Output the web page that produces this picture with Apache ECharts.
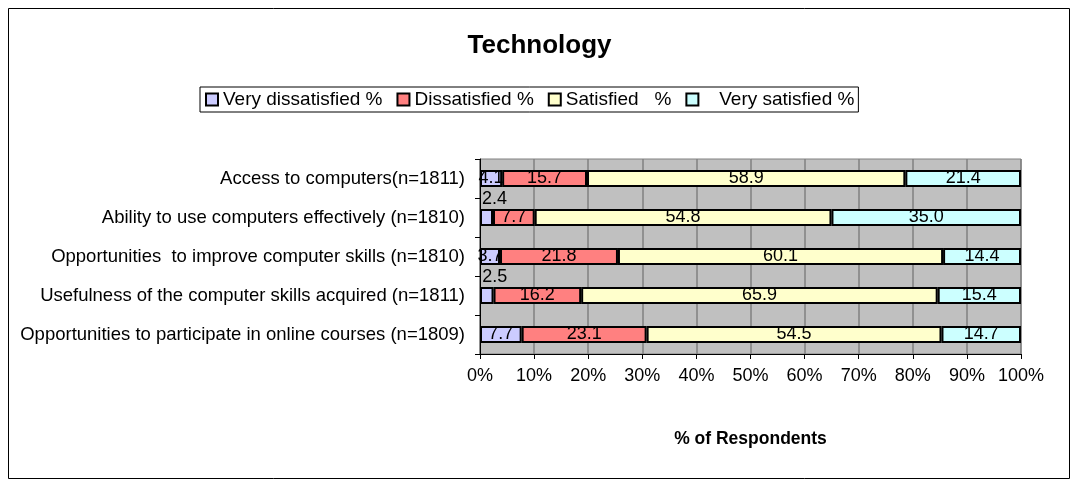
<!DOCTYPE html>
<html>
<head>
<meta charset="utf-8">
<script src="https://cdn.jsdelivr.net/npm/echarts@6/dist/echarts.min.js"></script>
<style>
  html, body { margin: 0; padding: 0; background: #fff; }
  #chart { width: 1079px; height: 488px; }
</style>
</head>
<body>
<div id="chart"></div>
<script>
// categories listed bottom to top (ECharts category axis grows upward)
const categories = [
  'Opportunities to participate in online courses (n=1809)',
  'Usefulness of the computer skills acquired (n=1811)',
  'Opportunities  to improve computer skills (n=1810)',
  'Ability to use computers effectively (n=1810)',
  'Access to computers(n=1811)'
]
const seriesNames = ['Very dissatisfied %', 'Dissatisfied %', 'Satisfied   %', '   Very satisfied %']
const veryDissatisfied = [7.7, 2.5, 3.7, 2.4, 4.1]
const dissatisfied = [23.1, 16.2, 21.8, 7.7, 15.7]
const satisfied = [54.5, 65.9, 60.1, 54.8, 58.9]
const verySatisfied = [14.7, 15.4, 14.4, 35.0, 21.4]
const tickLabels = ['0%', '10%', '20%', '30%', '40%', '50%', '60%', '70%', '80%', '90%', '100%']
const colors = ['#ccccff', '#ff8080', '#ffffcc', '#ccffff']

const raw = [veryDissatisfied, dissatisfied, satisfied, verySatisfied]
const totals = categories.map((_, i) => raw.reduce((s, arr) => s + arr[i], 0))

const chart = echarts.init(document.getElementById('chart'))

const series = raw.map((arr, si) => ({
  name: seriesNames[si],
  type: 'bar',
  stack: 'total',
  barWidth: 17,
  itemStyle: { color: colors[si], borderColor: '#000', borderWidth: 2 },
  label: {
    show: true,
    position: 'inside',
    color: '#000',
    fontSize: 18,
    formatter: p => arr[p.dataIndex].toFixed(1)
  },
  data: arr.map((v, i) => {
    const item = { value: v / totals[i] * 100 }
    // tiny segments get their label above the bar, like the original
    if (v < 3) item.label = { position: 'top', distance: 1, offset: [8, 0] }
    return item
  })
}))

chart.setOption({
  animation: false,
  textStyle: { fontFamily: 'Liberation Sans, Arial', color: '#000' },
  title: {
    text: 'Technology',
    left: 'center',
    top: 28,
    textStyle: { fontSize: 26, fontWeight: 'bold', color: '#000', fontFamily: 'Liberation Sans, Arial' }
  },
  legend: {
    top: 87,
    left: 200,
    itemGap: 14,
    itemWidth: 12,
    itemHeight: 12,
    icon: 'rect',
    borderColor: '#000',
    borderWidth: 1,
    padding: [3, 4, 3, 5],
    textStyle: { fontSize: 19, color: '#000' },
    itemStyle: { borderColor: '#000', borderWidth: 2 }
  },
  graphic: [{
    type: 'rect',
    shape: { x: 8.5, y: 8.5, width: 1061, height: 470 },
    style: { fill: 'none', stroke: '#000', lineWidth: 1 },
    silent: true
  }],
  grid: {
    left: 480,
    right: 58,
    top: 159,
    bottom: 134,
    show: true,
    backgroundColor: '#c0c0c0',
    borderColor: '#808080',
    borderWidth: 1
  },
  xAxis: {
    type: 'value',
    min: 0,
    max: 100,
    interval: 10,
    name: '% of Respondents',
    nameLocation: 'middle',
    nameGap: 76,
    nameTextStyle: { fontSize: 17.5, fontWeight: 'bold', color: '#000' },
    axisLine: { show: true, lineStyle: { color: '#000' } },
    axisTick: { show: true, length: 5, lineStyle: { color: '#000' } },
    axisLabel: {
      fontSize: 18,
      color: '#000',
      margin: 13,
      formatter: v => tickLabels[Math.round(v / 10)]
    },
    splitLine: { show: true, lineStyle: { color: '#808080', width: 1.5 } }
  },
  yAxis: {
    type: 'category',
    data: categories,
    axisLine: { show: true, lineStyle: { color: '#000' } },
    axisTick: { show: true, length: 5, lineStyle: { color: '#000' } },
    axisLabel: { fontSize: 18.5, color: '#000', margin: 15 }
  },
  series
})
</script>
</body>
</html>
